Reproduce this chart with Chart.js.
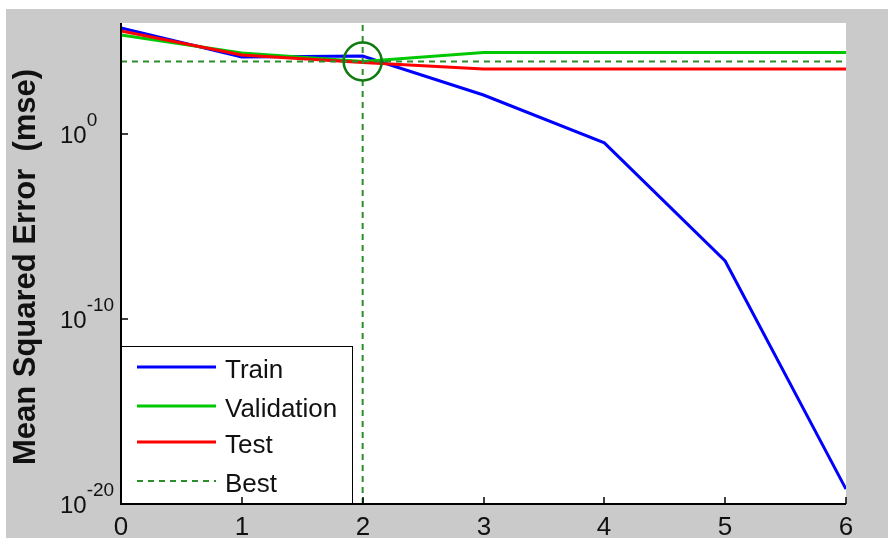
<!DOCTYPE html>
<html>
<head>
<meta charset="utf-8">
<script src="https://cdn.jsdelivr.net/npm/chart.js@4.4.1/dist/chart.umd.min.js"></script>
<style>
  html, body { margin: 0; padding: 0; background: #fff; }
  canvas { display: block; }
</style>
</head>
<body>
<canvas id="perf-chart" width="888" height="538"></canvas>
<script>
// 学習曲線データ（エポックごとの MSE）
const epochs = [0, 1, 2, 3, 4, 5, 6];
const trainMse = [5.4e5, 1.45e4, 1.64e4, 128, 0.33, 1.36e-7, 6.4e-20];
const validationMse = [2.24e5, 2.39e4, 8.3e3, 2.54e4, 2.54e4, 2.54e4, 2.54e4];
const testMse = [3.7e5, 1.86e4, 7.3e3, 3.27e3, 3.27e3, 3.27e3, 3.27e3];

// ベスト（検証誤差が最小のエポック）
const bestEpoch = 2;
const bestMse = 8.3e3;

// 軸の目盛り
const xTicks = [0, 1, 2, 3, 4, 5, 6];
const yTickExponents = [0, -10, -20];
const yMin = 1e-20;
const yMax = 1e6;

const legendLabels = ['Train', 'Validation', 'Test', 'Best'];

const COLORS = {
  train: '#0000ff',
  validation: '#00c800',
  test: '#ff0000',
  best: '#2a8f2a',
  circle: '#0f7a0f',
  frame: '#cacaca',
  text: '#111111',
};

const FONT = '"Liberation Sans", Arial, sans-serif';

const toPoints = (ys) => epochs.map((x, i) => ({ x, y: ys[i] }));

// 背景・軸・凡例を MATLAB 風に描くプラグイン
const matlabFrame = {
  id: 'matlabFrame',
  beforeDraw(chart) {
    const { ctx, chartArea: a } = chart;
    ctx.save();
    ctx.fillStyle = '#ffffff';
    ctx.fillRect(0, 0, chart.width, chart.height);
    ctx.fillStyle = COLORS.frame;
    ctx.fillRect(6, 9, chart.width - 6, chart.height - 9);
    ctx.fillStyle = '#ffffff';
    ctx.fillRect(a.left, a.top, a.right - a.left, a.bottom - a.top);
    ctx.restore();
  },
  afterDraw(chart) {
    const { ctx, chartArea: a } = chart;
    const xs = chart.scales.x;
    const ys = chart.scales.y;
    ctx.save();

    // 凡例
    const box = { left: a.left, top: 346, right: 352, bottom: a.bottom };
    ctx.fillStyle = '#ffffff';
    ctx.fillRect(box.left, box.top, box.right - box.left, box.bottom - box.top);
    ctx.strokeStyle = '#000';
    ctx.lineWidth = 1;
    ctx.strokeRect(box.left + 0.5, box.top + 0.5, box.right - box.left, box.bottom - box.top);
    const rows = [367, 406, 442, 481];
    const sampleColors = [COLORS.train, COLORS.validation, COLORS.test, COLORS.best];
    legendLabels.forEach((label, i) => {
      const y = rows[i];
      ctx.beginPath();
      ctx.strokeStyle = sampleColors[i];
      ctx.lineWidth = i === 3 ? 2 : 3;
      ctx.setLineDash(i === 3 ? [6, 5] : []);
      ctx.moveTo(137, y);
      ctx.lineTo(216, y);
      ctx.stroke();
      ctx.setLineDash([]);
      ctx.fillStyle = COLORS.text;
      ctx.font = `26px ${FONT}`;
      ctx.textAlign = 'left';
      ctx.textBaseline = 'alphabetic';
      ctx.fillText(label, 225, y + 11);
    });

    // 軸線
    ctx.strokeStyle = '#000';
    ctx.lineWidth = 2;
    ctx.beginPath();
    ctx.moveTo(a.left, a.top);
    ctx.lineTo(a.left, a.bottom);
    ctx.lineTo(a.right, a.bottom);
    ctx.stroke();

    // X 目盛り（内向き）とラベル
    ctx.lineWidth = 1.5;
    ctx.font = `26px ${FONT}`;
    ctx.fillStyle = COLORS.text;
    ctx.textAlign = 'center';
    ctx.textBaseline = 'alphabetic';
    xTicks.forEach((v) => {
      const px = Math.round(xs.getPixelForValue(v));
      ctx.beginPath();
      ctx.moveTo(px, a.bottom);
      ctx.lineTo(px, a.bottom - 7);
      ctx.stroke();
      ctx.fillText(String(v), px, 535);
    });

    // Y 目盛り（10 のべき乗）
    ctx.textAlign = 'left';
    yTickExponents.forEach((e) => {
      const py = Math.round(ys.getPixelForValue(Math.pow(10, e)));
      ctx.beginPath();
      ctx.moveTo(a.left, py);
      ctx.lineTo(a.left + 7, py);
      ctx.stroke();
      ctx.font = `24px ${FONT}`;
      ctx.fillText('10', 60, py + 9);
      const w = ctx.measureText('10').width;
      ctx.font = `19px ${FONT}`;
      ctx.fillText(String(e), 60 + w, py - 8);
    });

    // Y 軸タイトル
    ctx.translate(35, 267);
    ctx.rotate(-Math.PI / 2);
    ctx.font = `bold 31px ${FONT}`;
    ctx.textAlign = 'center';
    ctx.fillStyle = COLORS.text;
    ctx.fillText('Mean Squared Error  (mse)', 0, 0);
    ctx.restore();
  },
};

const lineStyle = (color) => ({
  borderColor: color,
  backgroundColor: color,
  borderWidth: 3,
  pointRadius: 0,
  tension: 0,
  fill: false,
});

new Chart(document.getElementById('perf-chart').getContext('2d'), {
  type: 'line',
  data: {
    datasets: [
      { label: 'Best circle', data: [{ x: bestEpoch, y: bestMse }], showLine: false,
        pointRadius: 19, pointBorderWidth: 2.5, pointBorderColor: COLORS.circle,
        pointBackgroundColor: 'rgba(0,0,0,0)', order: 0 },
      { label: 'Best', data: [{ x: epochs[0], y: bestMse }, { x: epochs[epochs.length - 1], y: bestMse }],
        borderColor: COLORS.best, borderWidth: 2, borderDash: [6, 5], pointRadius: 0, order: 1 },
      { label: 'Best epoch', data: [{ x: bestEpoch, y: yMin }, { x: bestEpoch, y: yMax }],
        borderColor: COLORS.best, borderWidth: 2, borderDash: [6, 5], pointRadius: 0, order: 1 },
      { label: 'Test', data: toPoints(testMse), ...lineStyle(COLORS.test), order: 2 },
      { label: 'Validation', data: toPoints(validationMse), ...lineStyle(COLORS.validation), order: 3 },
      { label: 'Train', data: toPoints(trainMse), ...lineStyle(COLORS.train), order: 4 },
    ],
  },
  options: {
    responsive: false,
    animation: false,
    devicePixelRatio: 1,
    layout: { padding: { left: 121, top: 23, right: 42, bottom: 34 } },
    plugins: {
      legend: { display: false },
      tooltip: { enabled: false },
    },
    scales: {
      x: { type: 'linear', min: 0, max: 6, display: false },
      y: { type: 'logarithmic', min: yMin, max: yMax, display: false },
    },
  },
  plugins: [matlabFrame],
});
</script>
</body>
</html>
